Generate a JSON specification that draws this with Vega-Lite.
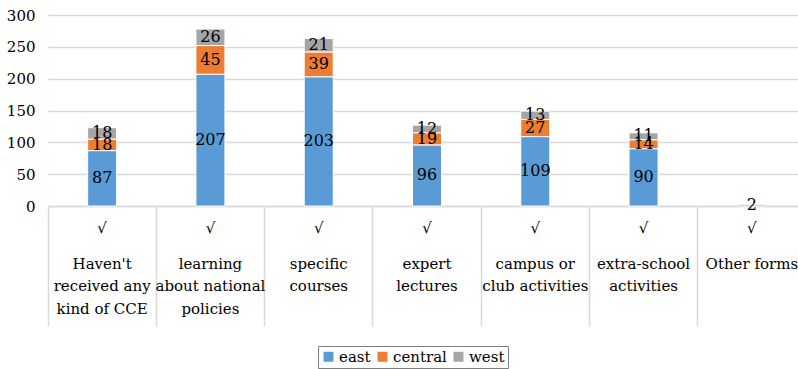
{
  "$schema": "https://vega.github.io/schema/vega-lite/v6.json",
  "width": 750,
  "height": 191,
  "autosize": {"type": "none"},
  "padding": {"left": 48, "top": 15, "right": 0, "bottom": 163},
  "background": "white",
  "config": {"view": {"stroke": null}, "font": "DejaVu Serif"},
  "data": {
    "values": [
      {"category": "Haven't|received any|kind of CCE", "region": "east", "rank": 1, "value": 87},
      {"category": "Haven't|received any|kind of CCE", "region": "central", "rank": 2, "value": 18},
      {"category": "Haven't|received any|kind of CCE", "region": "west", "rank": 3, "value": 18},
      {"category": "learning|about national|policies", "region": "east", "rank": 1, "value": 207},
      {"category": "learning|about national|policies", "region": "central", "rank": 2, "value": 45},
      {"category": "learning|about national|policies", "region": "west", "rank": 3, "value": 26},
      {"category": "specific|courses", "region": "east", "rank": 1, "value": 203},
      {"category": "specific|courses", "region": "central", "rank": 2, "value": 39},
      {"category": "specific|courses", "region": "west", "rank": 3, "value": 21},
      {"category": "expert|lectures", "region": "east", "rank": 1, "value": 96},
      {"category": "expert|lectures", "region": "central", "rank": 2, "value": 19},
      {"category": "expert|lectures", "region": "west", "rank": 3, "value": 12},
      {"category": "campus or|club activities", "region": "east", "rank": 1, "value": 109},
      {"category": "campus or|club activities", "region": "central", "rank": 2, "value": 27},
      {"category": "campus or|club activities", "region": "west", "rank": 3, "value": 13},
      {"category": "extra-school|activities", "region": "east", "rank": 1, "value": 90},
      {"category": "extra-school|activities", "region": "central", "rank": 2, "value": 14},
      {"category": "extra-school|activities", "region": "west", "rank": 3, "value": 11},
      {"category": "Other forms", "region": "east", "rank": 1, "value": 2}
    ]
  },
  "layer": [
    {
      "mark": {"type": "bar", "size": 29, "stroke": "white", "strokeWidth": 1},
      "encoding": {
        "x": {
          "field": "category", "type": "nominal", "sort": null,
          "scale": {"range": [0, 758], "paddingInner": 0, "paddingOuter": 0},
          "axis": {
            "orient": "bottom", "title": null, "labelExpr": "'√'",
            "labelFont": "DejaVu Serif", "labelFontSize": 15, "labelColor": "black",
            "labelAngle": 0, "labelBaseline": "top", "labelPadding": -106,
            "ticks": true, "tickSize": 120, "tickColor": "#d9d9d9", "tickWidth": 1.5, "bandPosition": 0,
            "domainColor": "#d9d9d9", "domainWidth": 1.5, "grid": false, "labelOverlap": false
          }
        },
        "y": {
          "field": "value", "type": "quantitative", "stack": "zero",
          "scale": {"domain": [0, 300]},
          "axis": {
            "title": null, "values": [0, 50, 100, 150, 200, 250, 300],
            "labelFont": "DejaVu Serif", "labelFontSize": 15, "labelColor": "black", "labelPadding": 13,
            "ticks": false, "domain": false, "grid": true, "gridColor": "#d9d9d9", "gridWidth": 1.5
          }
        },
        "color": {
          "field": "region", "type": "nominal",
          "scale": {"domain": ["east", "central", "west"], "range": ["#5B9BD5", "#ED7D31", "#A5A5A5"]},
          "legend": {
            "orient": "none", "legendX": 270, "legendY": 331, "direction": "horizontal", "title": null,
            "symbolType": "square", "symbolSize": 100, "symbolStrokeWidth": 0,
            "labelFont": "DejaVu Serif", "labelFontSize": 15, "labelColor": "black",
            "strokeColor": "#7f7f7f", "padding": 3, "columnPadding": 4, "labelOffset": 3
          }
        },
        "order": {"field": "rank", "type": "quantitative"}
      }
    },
    {
      "mark": {"type": "text", "font": "DejaVu Serif", "fontSize": 16, "color": "black"},
      "encoding": {
        "x": {
          "field": "category", "type": "nominal", "sort": null,
          "axis": {
            "orient": "bottom", "title": null, "labelExpr": "split(datum.label, '|')",
            "labelFont": "DejaVu Serif", "labelFontSize": 15, "labelColor": "black",
            "labelAngle": 0, "labelBaseline": "top", "labelPadding": 50, "labelLineHeight": 22.5,
            "ticks": false, "domain": false, "grid": false, "labelOverlap": false, "labelLimit": 0
          }
        },
        "y": {
          "field": "value", "type": "quantitative", "stack": "zero", "bandPosition": 0.5,
          "axis": {
            "title": null, "values": [0, 50, 100, 150, 200, 250, 300],
            "labelFont": "DejaVu Serif", "labelFontSize": 15, "labelColor": "black", "labelPadding": 13,
            "ticks": false, "domain": false, "grid": true, "gridColor": "#d9d9d9", "gridWidth": 1.5
          }
        },
        "detail": {"field": "region", "type": "nominal"},
        "order": {"field": "rank", "type": "quantitative"},
        "text": {"field": "value", "type": "quantitative"}
      }
    }
  ],
  "resolve": {"axis": {"x": "independent"}}
}
